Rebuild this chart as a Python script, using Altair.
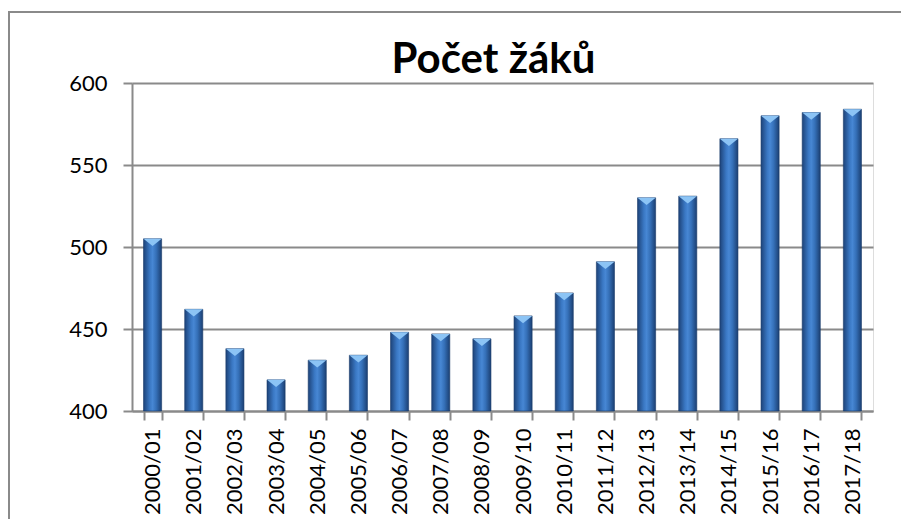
import altair as alt
import pandas as pd

years = ["2000/01", "2001/02", "2002/03", "2003/04", "2004/05", "2005/06",
         "2006/07", "2007/08", "2008/09", "2009/10", "2010/11", "2011/12",
         "2012/13", "2013/14", "2014/15", "2015/16", "2016/17", "2017/18"]
pupils = [505, 462, 438, 419, 431, 434, 448, 447, 444, 458, 472, 491,
          530, 531, 566, 580, 582, 584]
y_ticks = [400, 450, 500, 550, 600]

df = pd.DataFrame({"rok": years, "pocet": pupils})
one = pd.DataFrame({"k": [0]})

W, H = 741, 328
FONT = "Lato"
GRAY = "#8a8a8a"

x_enc = alt.X("rok:N", sort=years, title=None,
              scale=alt.Scale(paddingInner=0.56, paddingOuter=0.28),
              axis=alt.Axis(labelAngle=-90, labelFont=FONT, labelFontSize=22,
                            labelColor="#000000", labelPadding=8,
                            tickBand="extent", tickSize=9, tickColor=GRAY,
                            tickWidth=2, domainColor=GRAY, domainWidth=2,
                            grid=False))
y_enc = alt.Y("pocet:Q", title=None,
              scale=alt.Scale(domain=[400, 600], nice=False, zero=False),
              axis=alt.Axis(values=y_ticks, labelFont=FONT, labelFontSize=22,
                            labelColor="#000000", labelPadding=16,
                            tickSize=9, tickColor=GRAY, tickWidth=2,
                            domainColor=GRAY, domainWidth=2,
                            gridColor=GRAY, gridWidth=2, grid=True))

grad = alt.Gradient(
    gradient="linear",
    stops=[alt.GradientStop(color="#1d4379", offset=0),
           alt.GradientStop(color="#3a78c4", offset=0.35),
           alt.GradientStop(color="#4787d4", offset=0.5),
           alt.GradientStop(color="#3570b8", offset=0.7),
           alt.GradientStop(color="#1b3f72", offset=1)],
    x1=0, x2=1, y1=0, y2=0)

bars = alt.Chart(df).mark_bar(color=grad, stroke="#1a3a6a", strokeWidth=0.6).encode(
    x=x_enc, y=y_enc, y2=alt.datum(400))

caps = alt.Chart(df).mark_point(
    shape="M-1,0 L1,0 L0,0.8 Z", filled=True, size=330,
    color="#8cc4f5", opacity=1).encode(
    x=alt.X("rok:N", sort=years), y=alt.Y("pocet:Q"))

frame = alt.Chart(one).mark_rect(fill=None, stroke=GRAY, strokeWidth=2).encode(
    x=alt.value(-123), x2=alt.value(W + 60), y=alt.value(-71), y2=alt.value(H + 140))

chart = alt.layer(frame, bars, caps).properties(
    width=W, height=H,
    title=alt.TitleParams("Počet žáků", font=FONT, fontSize=42,
                          fontWeight="bold", color="#000000",
                          anchor="middle", offset=-71, dx=-9),
    autosize=alt.AutoSizeParams(type="none"),
    padding={"left": 124, "top": 75, "right": 28, "bottom": 108},
).configure_view(stroke=None).configure(background="#ffffff")

chart.save("out.html", embed_options={"renderer": "svg", "actions": False})
